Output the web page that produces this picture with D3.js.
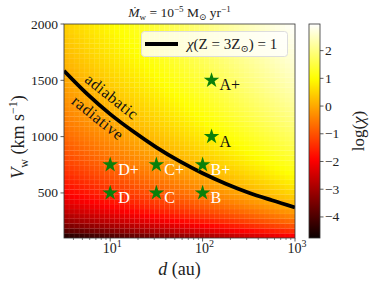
<!DOCTYPE html>
<html>
<head>
<meta charset="utf-8">
<title>chi map</title>
<script src="https://d3js.org/d3.v7.min.js"></script>
<style>
  body { margin: 0; background: #fff; }
  text { font-family: "Liberation Serif", "DejaVu Serif", serif; fill: #222; }
</style>
</head>
<body>
<div class="box"></div>
<script>
// stars (model runs)
var starNames = ["A+", "A", "B+", "B", "C+", "C", "D+", "D"];
var starD = [125, 125, 100, 100, 31.6, 31.6, 10, 10];
var starV = [1500, 1000, 750, 500, 750, 500, 750, 500];
var starLabelColor = ["#111", "#111", "#fff", "#fff", "#fff", "#fff", "#fff", "#fff"];

// chi(Z=3Zsun)=1 curve
var curveD = [3.16, 5.62, 10, 17.8, 31.6, 56.2, 100, 178, 316, 562, 1000];
var curveV = [1585, 1380, 1200, 1045, 905, 782, 675, 582, 502, 435, 372];

// map: log(chi) grows as 4 log V + log d (colliding winds)
var logChiZero = 13.25;     // log chi = 4 log V + log d - logChiZero
var nCellsD = 46, nCellsV = 44;

var xTicks = [10, 100, 1000];
var yTicks = [500, 1000, 1500, 2000];
var cbTicks = [-4, -3, -2, -1, 0, 1, 2];
var cbRange = [-4.76, 2.96];

var width = 374, height = 287;
var pL = 64, pR = 295, pT = 24, pB = 238;

var x = d3.scaleLog().domain([Math.pow(10, 0.5), 1000]).range([pL, pR]);
var y = d3.scaleLinear().domain([100, 2000]).range([pB, pT]);

// matplotlib "hot"
function hot(t) {
    var c = function(v) { return Math.max(0, Math.min(1, v)); };
    var r = 0.0416 + (1 - 0.0416) * c(t / 0.365079);
    var g = c((t - 0.365079) / (0.746032 - 0.365079));
    var b = c((t - 0.746032) / (1 - 0.746032));
    return d3.rgb(r * 255, g * 255, b * 255).toString();
}
var color = d3.scaleSequential(hot).domain(cbRange);

var svg = d3.select("div.box").append("svg")
    .attr("width", width)
    .attr("height", height);

// heat map cells
var cells = [];
var lx0 = 0.5, lx1 = 3;
for (var i = 0; i < nCellsD; i++) {
    for (var j = 0; j < nCellsV; j++) {
        var la = lx0 + (lx1 - lx0) * i / nCellsD;
        var lb = lx0 + (lx1 - lx0) * (i + 1) / nCellsD;
        var va = 100 + 1900 * j / nCellsV;
        var vb = 100 + 1900 * (j + 1) / nCellsV;
        var dm = Math.pow(10, (la + lb) / 2), vm = (va + vb) / 2;
        cells.push({
            d0: Math.pow(10, la), d1: Math.pow(10, lb), v0: va, v1: vb,
            val: 4 * Math.log10(vm) + Math.log10(dm) - logChiZero
        });
    }
}
svg.append("clipPath").attr("id", "clip").append("rect")
    .attr("x", pL).attr("y", pT).attr("width", pR - pL).attr("height", pB - pT);

var plot = svg.append("g").attr("clip-path", "url(#clip)");
plot.selectAll("rect.cell")
    .data(cells)
    .enter().append("rect")
    .attr("class", "cell")
    .attr("x", function(c) { return x(c.d0); })
    .attr("y", function(c) { return y(c.v1); })
    .attr("width", function(c) { return x(c.d1) - x(c.d0) + 0.3; })
    .attr("height", function(c) { return y(c.v0) - y(c.v1) + 0.3; })
    .attr("fill", function(c) { return color(c.val); })
    .attr("stroke", "rgba(255,255,255,0.10)")
    .attr("stroke-width", 0.5);

// chi = 1 line
var line = d3.line()
    .x(function(d, i) { return x(curveD[i]); })
    .y(function(d, i) { return y(curveV[i]); })
    .curve(d3.curveMonotoneX);
plot.append("path")
    .datum(curveD)
    .attr("d", line)
    .attr("fill", "none")
    .attr("stroke", "#000")
    .attr("stroke-width", 3.8);

// regime labels
svg.append("text").attr("transform", "translate(108.5,101) rotate(38.5)")
    .attr("text-anchor", "middle").style("font-size", "16px").style("letter-spacing", "0.6px")
    .style("fill", "#111")
    .text("adiabatic");
svg.append("text").attr("transform", "translate(94.5,122) rotate(38.5)")
    .attr("text-anchor", "middle").style("font-size", "16px").style("letter-spacing", "0.6px")
    .style("fill", "#111")
    .text("radiative");

// stars
var star = d3.symbol().type(d3.symbolStar).size(75);
var stars = svg.append("g");
starNames.forEach(function(n, i) {
    stars.append("path")
        .attr("d", star)
        .attr("transform", "translate(" + x(starD[i]) + "," + y(starV[i]) + ")")
        .attr("fill", "#0a800a");
    stars.append("text")
        .attr("x", x(starD[i]) + 8)
        .attr("y", y(starV[i]) + 10)
        .style("font-size", "16px")
        .style("fill", starLabelColor[i])
        .text(n);
});

// legend
var lg = svg.append("g");
lg.append("rect").attr("x", 141.5).attr("y", 31.5).attr("width", 146).attr("height", 25)
    .attr("rx", 3).attr("fill", "rgba(255,255,255,0.8)").attr("stroke", "#ddd");
lg.append("line").attr("x1", 145).attr("x2", 178).attr("y1", 44).attr("y2", 44)
    .attr("stroke", "#000").attr("stroke-width", 3.8);
var lt = lg.append("text").attr("x", 187).attr("y", 49).style("font-size", "15px");
lt.append("tspan").style("font-style", "italic").text("\u03c7");
lt.append("tspan").text("(Z = 3Z");
lt.append("tspan").attr("dy", 3).style("font-size", "10px").text("\u2299");
lt.append("tspan").attr("dy", -3).text(") = 1");

// frame
svg.append("rect").attr("x", pL).attr("y", pT).attr("width", pR - pL).attr("height", pB - pT)
    .attr("fill", "none").attr("stroke", "#333").attr("stroke-width", 0.8);

// x axis ticks
var minor = [];
[1, 10, 100].forEach(function(b) {
    for (var k = 2; k <= 9; k++) { if (b * k > Math.pow(10, 0.5)) minor.push(b * k); }
});
svg.selectAll("line.xminor").data(minor).enter().append("line")
    .attr("x1", function(d) { return x(d); }).attr("x2", function(d) { return x(d); })
    .attr("y1", pB).attr("y2", pB + 2).attr("stroke", "#333").attr("stroke-width", 0.6);
svg.selectAll("line.xmajor").data(xTicks).enter().append("line")
    .attr("x1", function(d) { return x(d); }).attr("x2", function(d) { return x(d); })
    .attr("y1", pB).attr("y2", pB + 3.5).attr("stroke", "#333").attr("stroke-width", 0.8);
xTicks.forEach(function(d) {
    var t = svg.append("text").attr("x", x(d) + 2).attr("y", 253)
        .attr("text-anchor", "middle").style("font-size", "14px");
    t.append("tspan").text("10");
    t.append("tspan").attr("dy", -6).style("font-size", "10px").text(Math.round(Math.log10(d)));
});

// y axis ticks
svg.selectAll("line.ytick").data(yTicks).enter().append("line")
    .attr("x1", pL - 3.5).attr("x2", pL)
    .attr("y1", function(d) { return y(d); }).attr("y2", function(d) { return y(d); })
    .attr("stroke", "#333").attr("stroke-width", 0.8);
svg.selectAll("text.ytick").data(yTicks).enter().append("text")
    .attr("x", pL - 6).attr("y", function(d) { return y(d) + 4.5; })
    .attr("text-anchor", "end").style("font-size", "13.5px")
    .text(function(d) { return d; });

// axis labels
var xl = svg.append("text").attr("x", (pL + pR) / 2).attr("y", 275)
    .attr("text-anchor", "middle").style("font-size", "18px");
xl.append("tspan").style("font-style", "italic").text("d");
xl.append("tspan").text(" (au)");

var yl = svg.append("text").attr("transform", "translate(24," + ((pT + pB) / 2 + 6) + ") rotate(-90)")
    .attr("text-anchor", "middle").style("font-size", "18px");
yl.append("tspan").style("font-style", "italic").text("V");
yl.append("tspan").attr("dy", 4).style("font-size", "12px").text("w");
yl.append("tspan").attr("dy", -4).text(" (km s");
yl.append("tspan").attr("dy", -7).style("font-size", "12px").text("\u22121");
yl.append("tspan").attr("dy", 7).text(")");

// title
var tt = svg.append("text").attr("x", (pL + pR) / 2).attr("y", 17)
    .attr("text-anchor", "middle").style("font-size", "13.5px");
tt.append("tspan").style("font-style", "italic").text("\u1e40");
tt.append("tspan").attr("dy", 3).style("font-size", "9px").text("w");
tt.append("tspan").attr("dy", -3).text(" = 10");
tt.append("tspan").attr("dy", -5).style("font-size", "9px").text("\u22125");
tt.append("tspan").attr("dy", 5).text(" M");
tt.append("tspan").attr("dy", 3).style("font-size", "9px").text("\u2299");
tt.append("tspan").attr("dy", -3).text(" yr");
tt.append("tspan").attr("dy", -5).style("font-size", "9px").text("\u22121");

// colorbar
var cbX = 309, cbW = 11;
var cy = d3.scaleLinear().domain(cbRange).range([pB, pT]);
var grad = svg.append("defs").append("linearGradient").attr("id", "cbgrad")
    .attr("x1", 0).attr("y1", 1).attr("x2", 0).attr("y2", 0);
d3.range(0, 1.0001, 0.02).forEach(function(f) {
    grad.append("stop").attr("offset", f)
        .attr("stop-color", color(cbRange[0] + f * (cbRange[1] - cbRange[0])));
});
svg.append("rect").attr("x", cbX).attr("y", pT).attr("width", cbW).attr("height", pB - pT)
    .attr("fill", "url(#cbgrad)").attr("stroke", "#333").attr("stroke-width", 0.8);
svg.selectAll("line.cbtick").data(cbTicks).enter().append("line")
    .attr("x1", cbX + cbW).attr("x2", cbX + cbW + 3.5)
    .attr("y1", function(d) { return cy(d); }).attr("y2", function(d) { return cy(d); })
    .attr("stroke", "#333").attr("stroke-width", 0.8);
svg.selectAll("text.cbtick").data(cbTicks).enter().append("text")
    .attr("x", cbX + cbW + 5).attr("y", function(d) { return cy(d) + 4.5; })
    .style("font-size", "13.5px")
    .text(function(d) { return d < 0 ? "\u2212" + Math.abs(d) : d; });

var cl = svg.append("text").attr("transform", "translate(364," + (pT + pB) / 2 + ") rotate(-90)")
    .attr("text-anchor", "middle").style("font-size", "17px");
cl.append("tspan").text("log(");
cl.append("tspan").style("font-style", "italic").text("\u03c7");
cl.append("tspan").text(")");
</script>
</body>
</html>
